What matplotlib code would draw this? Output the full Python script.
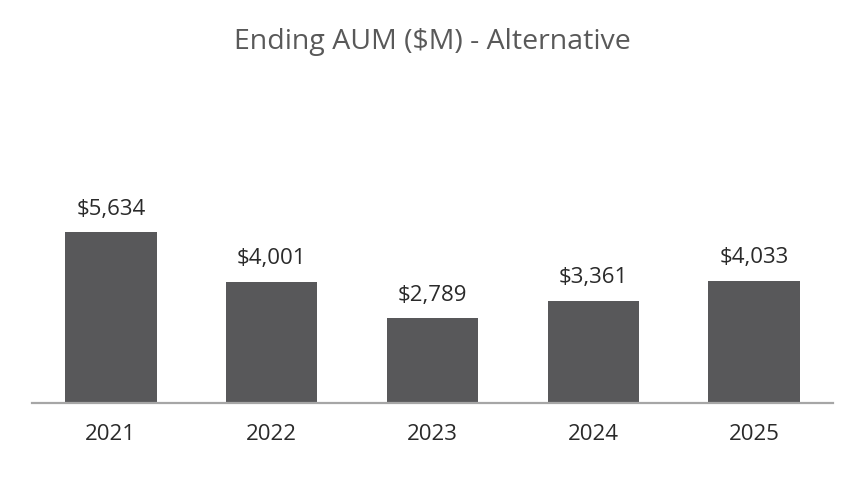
import matplotlib.pyplot as plt

years = ["2021", "2022", "2023", "2024", "2025"]
aum = [5634, 4001, 2789, 3361, 4033]
value_labels = ["$5,634", "$4,001", "$2,789", "$3,361", "$4,033"]

plt.rcParams["font.family"] = ["Open Sans", "DejaVu Sans"]

fig = plt.figure(figsize=(8.64, 4.8), dpi=100)
ax = fig.add_axes([32 / 864, 77 / 480, 801 / 864, 303 / 480])

x = list(range(len(years)))
bars = ax.bar(x, aum, width=0.57, color="#58585a", zorder=2)

for rect, lab in zip(bars, value_labels):
    ax.annotate(lab, (rect.get_x() + rect.get_width() / 2, rect.get_height()),
                xytext=(0, 9), textcoords="offset points",
                ha="center", va="bottom", fontsize=16, color="#2a2a2a")

ax.set_xlim(-0.49, 4.49)
ax.set_ylim(0, 9984)
ax.set_xticks(x)
ax.set_xticklabels(years, fontsize=16, color="#2a2a2a")
ax.tick_params(axis="x", length=0, pad=15)
ax.set_yticks([])

for side in ["top", "right", "left"]:
    ax.spines[side].set_visible(False)
ax.spines["bottom"].set_color("#a6a6a6")
ax.spines["bottom"].set_linewidth(1.6)

fig.text(0.5, 1 - 42 / 480, "Ending AUM ($M) - Alternative",
         ha="center", va="center", fontsize=20.5, color="#595959")

fig.savefig("out.png", dpi=100)
